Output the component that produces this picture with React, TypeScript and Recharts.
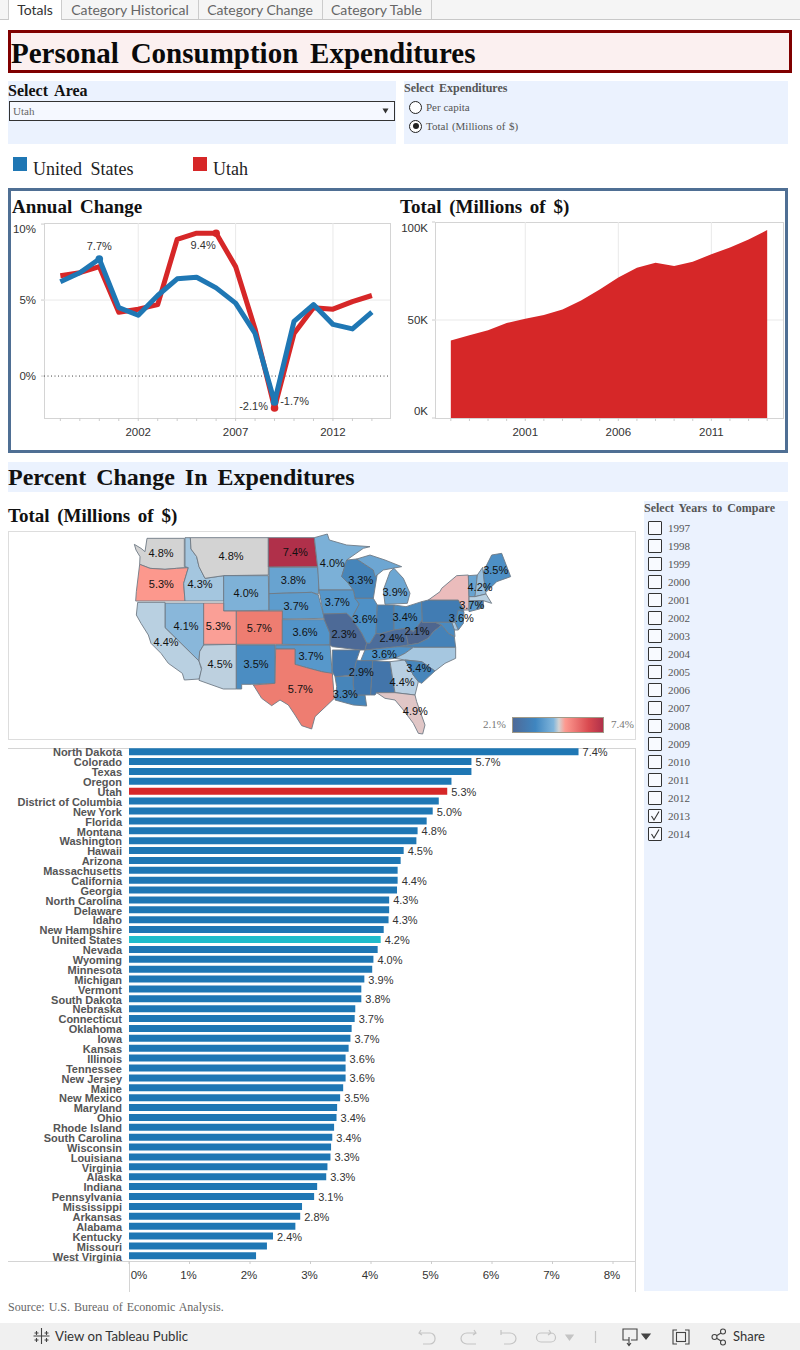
import React from 'react';
import {
  LineChart,
  Line,
  AreaChart,
  Area,
  BarChart,
  Bar,
  Cell,
  ScatterChart,
  Scatter,
  XAxis,
  YAxis,
  CartesianGrid,
  ReferenceLine,
} from 'recharts';

const changeYears = [1998, 1999, 2000, 2001, 2002, 2003, 2004, 2005, 2006, 2007, 2008, 2009, 2010, 2011, 2012, 2013, 2014];
const utahChange = [6.6, 6.8, 7.2, 4.2, 4.4, 4.7, 9.0, 9.4, 9.4, 7.2, 3.1, -2.1, 2.8, 4.5, 4.4, 4.9, 5.3];
const usChange = [6.2, 6.8, 7.7, 4.5, 4.0, 5.3, 6.4, 6.5, 5.8, 4.8, 2.8, -1.7, 3.6, 4.7, 3.4, 3.1, 4.2];
const changeYearTicks = [2002, 2007, 2012];
const changeValueTicks = [0, 5, 10];

const totalYears = [1997, 1998, 1999, 2000, 2001, 2002, 2003, 2004, 2005, 2006, 2007, 2008, 2009, 2010, 2011, 2012, 2013, 2014];
const utahTotal = [39.6, 42.2, 44.8, 48.5, 50.6, 52.5, 55.4, 60, 65.6, 71.7, 76.7, 79.2, 77.5, 79.7, 83.5, 87, 91.1, 95.9];
const totalYearTicks = [2001, 2006, 2011];
const totalValueTicks = [0, 50, 100];

const barStates = [
  'North Dakota', 'Colorado', 'Texas', 'Oregon', 'Utah', 'District of Columbia', 'New York', 'Florida', 'Montana',
  'Washington', 'Hawaii', 'Arizona', 'Massachusetts', 'California', 'Georgia', 'North Carolina', 'Delaware', 'Idaho',
  'New Hampshire', 'United States', 'Nevada', 'Wyoming', 'Minnesota', 'Michigan', 'Vermont', 'South Dakota', 'Nebraska',
  'Connecticut', 'Oklahoma', 'Iowa', 'Kansas', 'Illinois', 'Tennessee', 'New Jersey', 'Maine', 'New Mexico', 'Maryland',
  'Ohio', 'Rhode Island', 'South Carolina', 'Wisconsin', 'Louisiana', 'Virginia', 'Alaska', 'Indiana', 'Pennsylvania',
  'Mississippi', 'Arkansas', 'Alabama', 'Kentucky', 'Missouri', 'West Virginia',
];
const barChange = [
  7.43, 5.66, 5.66, 5.33, 5.26, 5.12, 5.02, 4.92, 4.77,
  4.75, 4.54, 4.49, 4.44, 4.44, 4.43, 4.3, 4.3, 4.29,
  4.21, 4.16, 4.11, 4.04, 4.02, 3.89, 3.84, 3.84, 3.74,
  3.73, 3.68, 3.66, 3.63, 3.58, 3.58, 3.58, 3.54, 3.49, 3.44,
  3.43, 3.39, 3.36, 3.34, 3.33, 3.28, 3.26, 3.11, 3.06,
  2.86, 2.83, 2.75, 2.38, 2.28, 2.1,
];
const labeledBars = [
  'North Dakota', 'Colorado', 'Utah', 'New York', 'Montana', 'Hawaii', 'California', 'North Carolina', 'Idaho',
  'United States', 'Wyoming', 'Michigan', 'South Dakota', 'Connecticut', 'Iowa', 'Illinois', 'New Jersey', 'New Mexico',
  'Ohio', 'South Carolina', 'Louisiana', 'Alaska', 'Pennsylvania', 'Arkansas', 'Kentucky',
];
const percentTicks = [0, 1, 2, 3, 4, 5, 6, 7, 8];

const compareYears = [1997, 1998, 1999, 2000, 2001, 2002, 2003, 2004, 2005, 2006, 2007, 2008, 2009, 2010, 2011, 2012, 2013, 2014];
const checkedYears = [2013, 2014];
const tabNames = ['Totals', 'Category Historical', 'Category Change', 'Category Table'];

// state outlines, in map units (1200 x 630)
const stateOutlines: Record<string, number[][][]> = {
  Washington: [[[43, 43], [63, 55], [75, 65], [81, 25], [193, 25], [193, 110], [205, 113], [170, 115], [135, 118], [90, 115], [59, 103], [60, 80], [48, 60]]],
  Oregon: [[[59, 103], [90, 115], [135, 118], [170, 115], [205, 113], [191, 160], [195, 213], [47, 213], [49, 185]]],
  Idaho: [[[195, 23], [211, 23], [213, 57], [230, 80], [237, 110], [255, 145], [311, 137], [311, 213], [195, 213], [191, 160], [205, 113], [195, 110]]],
  Montana: [[[211, 23], [445, 23], [445, 135], [311, 137], [255, 145], [237, 110], [230, 80], [213, 57]]],
  Wyoming: [[[311, 137], [445, 137], [447, 241], [311, 243]]],
  'North Dakota': [[[445, 23], [583, 23], [593, 110], [445, 111]]],
  'South Dakota': [[[447, 112], [593, 112], [597, 145], [595, 193], [575, 187], [447, 191]]],
  Nebraska: [[[447, 191], [575, 187], [595, 195], [613, 265], [487, 267], [487, 241], [447, 241]]],
  Nevada: [[[135, 219], [251, 219], [251, 345], [239, 365], [237, 393], [135, 293]]],
  California: [[[53, 217], [135, 217], [135, 293], [237, 393], [245, 420], [237, 447], [193, 450], [187, 430], [145, 400], [123, 370], [93, 340], [85, 315], [63, 280], [49, 255]]],
  Arizona: [[[251, 345], [349, 343], [349, 477], [310, 477], [237, 451], [245, 415], [237, 393], [239, 365]]],
  Utah: [[[251, 219], [311, 219], [311, 243], [349, 243], [349, 343], [251, 343]]],
  Colorado: [[[349, 243], [487, 243], [487, 343], [349, 343]]],
  'New Mexico': [[[349, 345], [465, 345], [465, 460], [395, 463], [365, 463], [365, 477], [349, 477]]],
  Kansas: [[[487, 269], [613, 269], [630, 310], [630, 345], [487, 343]]],
  Oklahoma: [[[467, 345], [630, 345], [637, 435], [605, 425], [560, 413], [525, 403], [525, 357], [467, 357]]],
  Texas: [[[467, 357], [525, 357], [525, 403], [560, 413], [605, 425], [637, 430], [643, 505], [620, 527], [585, 560], [575, 597], [545, 587], [525, 555], [505, 525], [480, 510], [455, 527], [425, 505], [400, 465], [465, 460]]],
  Minnesota: [[[583, 23], [622, 12], [628, 30], [680, 45], [750, 50], [730, 55], [680, 90], [665, 140], [685, 160], [700, 180], [597, 180], [593, 112]]],
  Wisconsin: [[[680, 90], [710, 87], [760, 120], [772, 130], [760, 205], [705, 205], [700, 180], [685, 160], [665, 140]]],
  Michigan: [[[710, 87], [750, 75], [795, 90], [845, 110], [790, 120], [765, 140], [760, 120]], [[790, 180], [810, 125], [822, 115], [850, 145], [870, 190], [862, 220], [795, 223]]],
  Iowa: [[[597, 180], [700, 180], [705, 205], [718, 222], [695, 265], [680, 250], [610, 252]]],
  Illinois: [[[705, 205], [760, 205], [772, 225], [768, 310], [750, 340], [740, 340], [725, 310], [695, 265], [718, 222]]],
  Indiana: [[[772, 225], [822, 225], [822, 300], [780, 312], [768, 310]]],
  Ohio: [[[822, 225], [858, 230], [905, 215], [907, 270], [880, 305], [860, 295], [822, 300]]],
  Missouri: [[[610, 252], [680, 250], [695, 265], [725, 310], [740, 340], [735, 360], [720, 360], [637, 350], [630, 345], [630, 310], [613, 269]]],
  Kentucky: [[[740, 340], [750, 340], [768, 310], [780, 312], [822, 300], [860, 295], [880, 305], [860, 320], [865, 345], [835, 350], [735, 360]]],
  'West Virginia': [[[860, 295], [880, 305], [907, 270], [907, 277], [945, 277], [965, 285], [940, 305], [925, 325], [895, 340], [865, 345], [860, 320]]],
  Virginia: [[[865, 345], [895, 340], [925, 325], [940, 305], [965, 285], [985, 310], [1003, 320], [1007, 352], [880, 352], [835, 350]]],
  Pennsylvania: [[[905, 215], [925, 210], [1015, 210], [1032, 240], [1015, 270], [995, 277], [907, 277]]],
  'New York': [[[925, 210], [960, 185], [965, 175], [1010, 137], [1045, 135], [1047, 200], [1047, 240], [1032, 240], [1015, 210]]],
  Vermont: [[[1045, 137], [1072, 135], [1065, 200], [1047, 200]]],
  'New Hampshire': [[[1072, 135], [1088, 112], [1098, 192], [1065, 200]]],
  Maine: [[[1090, 125], [1115, 75], [1145, 70], [1172, 140], [1130, 155], [1100, 185], [1095, 180]]],
  Massachusetts: [[[1047, 200], [1065, 200], [1098, 192], [1115, 220], [1090, 212], [1047, 213]]],
  Connecticut: [[[1047, 213], [1075, 212], [1078, 237], [1047, 245]]],
  'Rhode Island': [[[1075, 212], [1090, 212], [1090, 232], [1078, 237]]],
  'New Jersey': [[[1015, 240], [1032, 245], [1030, 280], [1015, 300], [1005, 277]]],
  Delaware: [[[995, 277], [1005, 277], [1015, 300], [1003, 300]]],
  Maryland: [[[945, 277], [995, 277], [1003, 300], [1005, 320], [985, 310], [965, 285]]],
  Tennessee: [[[735, 360], [835, 350], [880, 352], [855, 370], [825, 385], [758, 392], [722, 392]]],
  Arkansas: [[[637, 360], [720, 360], [710, 390], [700, 435], [645, 440], [637, 425]]],
  Louisiana: [[[645, 440], [700, 438], [700, 465], [705, 495], [735, 495], [740, 528], [700, 525], [645, 510], [650, 470]]],
  Mississippi: [[[722, 392], [758, 392], [752, 495], [705, 495], [700, 465], [700, 435], [710, 390]]],
  Alabama: [[[758, 392], [810, 395], [825, 488], [770, 488], [765, 495], [752, 495]]],
  Georgia: [[[810, 395], [855, 390], [880, 435], [895, 455], [885, 495], [825, 488]]],
  'North Carolina': [[[880, 352], [1007, 352], [1007, 385], [975, 400], [945, 423], [905, 395], [855, 390], [825, 385], [855, 370]]],
  'South Carolina': [[[855, 390], [905, 395], [945, 423], [905, 460], [895, 455], [880, 435]]],
  Florida: [[[770, 488], [825, 488], [885, 495], [890, 515], [915, 585], [908, 612], [895, 610], [880, 580], [850, 540], [825, 510], [795, 505]]],
};

const stateLabelSpots: [string, number, number][] = [
  ['Washington', 123, 68], ['Montana', 333, 78], ['North Dakota', 526, 66], ['Minnesota', 637, 100], ['Idaho', 240, 163],
  ['South Dakota', 520, 151], ['Wisconsin', 722, 151], ['Michigan', 825, 186], ['Maine', 1127, 121], ['New Hampshire', 1080, 171],
  ['Oregon', 124, 163], ['Wyoming', 378, 189], ['Nebraska', 528, 228], ['Iowa', 652, 216], ['Connecticut', 1055, 226],
  ['Nevada', 198, 289], ['Utah', 295, 289], ['Colorado', 418, 295], ['Kansas', 555, 306], ['Missouri', 672, 312],
  ['Illinois', 735, 268], ['Ohio', 855, 262], ['New Jersey', 1024, 264], ['West Virginia', 891, 303], ['Kentucky', 816, 325],
  ['California', 138, 337], ['Arizona', 300, 402], ['New Mexico', 408, 402], ['Oklahoma', 573, 378], ['Tennessee', 793, 372],
  ['South Carolina', 896, 415], ['Mississippi', 724, 427], ['Georgia', 846, 457], ['Texas', 541, 478], ['Louisiana', 676, 493],
  ['Florida', 886, 544],
];

const colorStops: [number, string][] = [
  [2.1, '#4e668f'], [2.4, '#4c6d9c'], [2.9, '#3f78b0'], [3.3, '#4583b8'], [3.6, '#4f92c8'], [4.0, '#78aed6'],
  [4.4, '#b5cfe3'], [4.72, '#d3d3d3'], [4.8, '#d3d3d3'], [5.02, '#ebbcbc'], [5.3, '#fd9a90'], [5.7, '#ec7a6e'], [7.43, '#b0304a'],
];

const BLUE = '#1f77b4';
const RED = '#d62728';
const TEAL = '#1fbccb';
const PANEL = '#ebf2fe';
const SANS = '"Liberation Sans", Arial, sans-serif';
const SERIF = '"Liberation Serif", "Times New Roman", serif';
const UI = 'Lato, sans-serif';

const MAP_WIDTH = 400;
const MAP_HEIGHT = 210;
const MAP_UNITS_X = 1200;
const MAP_UNITS_Y = 630;

function mixColor(a: string, b: string, t: number) {
  const channel = (c: string, i: number) => parseInt(c.slice(1 + i * 2, 3 + i * 2), 16);
  const parts = [0, 1, 2].map((i) => Math.round(channel(a, i) + (channel(b, i) - channel(a, i)) * t));
  return `rgb(${parts.join(',')})`;
}

function changeColor(v: number) {
  for (let i = 1; i < colorStops.length; i++) {
    if (v <= colorStops[i][0]) {
      const [v0, c0] = colorStops[i - 1];
      const [v1, c1] = colorStops[i];
      return mixColor(c0, c1, Math.max(0, (v - v0) / (v1 - v0)));
    }
  }
  return colorStops[colorStops.length - 1][1];
}

const changeRows = changeYears.map((year, i) => ({ year, utah: utahChange[i], us: usChange[i] }));
const totalRows = totalYears.map((year, i) => ({ year, total: utahTotal[i] }));
const barRows = barStates.map((name, i) => ({ name, change: barChange[i] }));
const valueOf = (name: string) => barChange[barStates.indexOf(name)];
const stateRows = Object.keys(stateOutlines).map((name) => ({
  name,
  x: stateOutlines[name][0][0][0],
  y: stateOutlines[name][0][0][1],
  parts: stateOutlines[name],
}));
const labelRows = stateLabelSpots.map(([name, x, y]) => ({ name, x, y }));

function Txt({ x, y, size, font = SERIF, bold, color = '#111', spacing, children }: any) {
  return (
    <div
      style={{
        position: 'absolute',
        left: x,
        top: y - 15,
        lineHeight: '30px',
        fontSize: size,
        fontFamily: font,
        fontWeight: bold ? 700 : 400,
        color,
        wordSpacing: spacing,
        whiteSpace: 'nowrap',
      }}
    >
      {children}
    </div>
  );
}

function Box({ x, y, w, h, style }: any) {
  return <div style={{ position: 'absolute', left: x, top: y, width: w, height: h, boxSizing: 'border-box', ...style }} />;
}

function AxisText({ x, y, text, anchor = 'middle' }: any) {
  return (
    <text x={x} y={y} textAnchor={anchor} dominantBaseline="central" fontSize={11.5} fontFamily={SANS} fill="#333">
      {text}
    </text>
  );
}

function yearTick(major: number[]) {
  return ({ x, y, payload }: any) =>
    major.includes(payload.value) ? <AxisText x={x} y={y + 9} text={String(payload.value)} /> : <g />;
}

function ChangeYTick({ x, y, payload }: any) {
  return <AxisText x={x - 3} y={payload.value === 10 ? y + 5 : y} text={`${payload.value}%`} anchor="end" />;
}

function TotalYTick({ x, y, payload }: any) {
  const shift = payload.value === 100 ? 6 : payload.value === 0 ? -7 : 0;
  return <AxisText x={x - 2} y={y + shift} text={`${payload.value}K`} anchor="end" />;
}

function PercentTick({ x, y, payload }: any) {
  return <AxisText x={payload.value === 0 ? x + 10 : x - 1} y={y + 9} text={`${payload.value}%`} />;
}

function StateTick({ x, y, payload }: any) {
  return (
    <text x={x + 1} y={y + 0.5} textAnchor="end" dominantBaseline="central" fontSize={11} fontWeight={700} fontFamily={SANS} fill="#555">
      {payload.value}
    </text>
  );
}

// labelled points of the annual change lines
const utahMarks: Record<number, [number, number]> = { 2006: [-13, 12], 2009: [-21, -2] };
const usMarks: Record<number, [number, number]> = { 2000: [0, -13], 2009: [20, -1] };

function markDot(color: string, marks: Record<number, [number, number]>) {
  return ({ cx, cy, index }: any) =>
    marks[changeYears[index]] ? <circle key={index} cx={cx} cy={cy} r={3.8} fill={color} /> : <g key={index} />;
}

function markLabel(values: number[], marks: Record<number, [number, number]>) {
  return ({ x, y, index }: any) => {
    const mark = marks[changeYears[index]];
    if (!mark) return <g key={index} />;
    return (
      <text key={index} x={x + mark[0]} y={y + mark[1]} textAnchor="middle" dominantBaseline="central" fontSize={11} fontFamily={SANS} fill="#333">
        {values[index].toFixed(1)}%
      </text>
    );
  };
}

function BarValue({ x, y, width, height, index }: any) {
  const row = barRows[index];
  if (!labeledBars.includes(row.name)) return <g />;
  return (
    <text x={x + width + 4} y={y + height / 2 + 0.5} dominantBaseline="central" fontSize={11} fontFamily={SANS} fill="#333">
      {row.change.toFixed(1)}%
    </text>
  );
}

function StateShape({ cx, cy, payload }: any) {
  const kx = MAP_WIDTH / MAP_UNITS_X;
  const ky = MAP_HEIGHT / MAP_UNITS_Y;
  const d = payload.parts
    .map((part: number[][]) =>
      'M' + part.map(([ux, uy]) => `${cx + (ux - payload.x) * kx},${cy + (uy - payload.y) * ky}`).join('L') + 'Z',
    )
    .join('');
  return <path d={d} fill={changeColor(valueOf(payload.name))} stroke="#6f7a86" strokeWidth={0.9} strokeLinejoin="round" />;
}

function StateLabel({ cx, cy, payload }: any) {
  return (
    <text x={cx} y={cy} textAnchor="middle" dominantBaseline="central" fontSize={11} fontFamily={SANS} fill="#111">
      {valueOf(payload.name).toFixed(1)}%
    </text>
  );
}

function Tabs() {
  const edges = [8, 62, 198, 322, 431];
  return (
    <>
      <Box x={0} y={0} w={800} h={20} style={{ background: '#f5f5f5', borderBottom: '1px solid #c8c8c8' }} />
      <Box x={8} y={0} w={54} h={20} style={{ background: '#fff', borderLeft: '1px solid #ccc', borderRight: '1px solid #ccc' }} />
      {tabNames.map((name, i) => (
        <React.Fragment key={name}>
          {i > 0 && <Box x={edges[i + 1]} y={0} w={1} h={19} style={{ background: '#ccc' }} />}
          <div
            style={{
              position: 'absolute',
              left: edges[i],
              width: edges[i + 1] - edges[i],
              top: 0,
              lineHeight: '19px',
              textAlign: 'center',
              fontFamily: UI,
              fontSize: 14,
              color: i === 0 ? '#333' : '#666',
            }}
          >
            {name}
          </div>
        </React.Fragment>
      ))}
    </>
  );
}

function Radio({ y, on }: any) {
  return (
    <>
      <Box x={409} y={y - 6.5} w={13} h={13} style={{ border: '1px solid #222', borderRadius: '50%', background: '#fff' }} />
      {on && <Box x={412.5} y={y - 3} w={6} h={6} style={{ background: '#222', borderRadius: '50%' }} />}
    </>
  );
}

function YearList() {
  return (
    <>
      {compareYears.map((year, i) => (
        <React.Fragment key={year}>
          <Box x={648} y={521 + i * 18} w={14} h={14} style={{ border: '1px solid #333', background: '#f8faff', borderRadius: 1 }} />
          {checkedYears.includes(year) && (
            <svg style={{ position: 'absolute', left: 648, top: 521 + i * 18 }} width={14} height={14}>
              <path d="M3.5 7 L6 11 L11 2.5" fill="none" stroke="#333" strokeWidth={1.1} />
            </svg>
          )}
          <Txt x={668} y={528 + i * 18} size={11} color="#555">{year}</Txt>
        </React.Fragment>
      ))}
    </>
  );
}

function Footer() {
  return (
    <>
      <Box x={0} y={1323} w={800} h={27} style={{ background: '#f0f0f0' }} />
      <svg style={{ position: 'absolute', left: 0, top: 1323 }} width={800} height={27} fill="none">
        <g stroke="#444" strokeWidth={1.1}>
          <path d="M41.5 5v16M33.5 13h16M36.5 8v4M34.5 10h4M46.5 8v4M44.5 10h4M36.5 15v4M34.5 17h4M46.5 15v4M44.5 17h4" />
        </g>
        <g stroke="#c4c4c4" strokeWidth={1.2}>
          <path d="M421 7l-2 3 3 2M419 10h11a5 5 0 0 1 5 5v1a5 5 0 0 1-5 5h-7" />
          <path d="M474 7l2 3-3 2M476 10h-9a6 5.5 0 0 0 0 11h9" />
          <path d="M501 7v5M501 10h9a6 5.5 0 0 1 0 11h-6" />
          <path d="M549 7l2 3-3 2M551 10h-10a4 4 0 0 0 0 9h10a4 4 0 0 0 0-9" />
          <path d="M566 12h7l-3.5 5z" fill="#c4c4c4" />
          <path d="M595.5 8v12" />
        </g>
        <g stroke="#444" strokeWidth={1.1}>
          <path d="M629 17h-6v-11h14v11h-6M629 14v8M627 20l2 2.5 2-2.5" />
          <path d="M642 11h8l-4 5z" fill="#444" />
          <path d="M677 7h-4v14h4M685 7h4v14h-4" />
          <rect x={676.5} y={9.5} width={9} height={9} />
          <circle cx={714.5} cy={14} r={2.5} />
          <circle cx={723} cy={8.5} r={2.5} />
          <circle cx={723} cy={19.5} r={2.5} />
          <path d="M717 12.5l4-2.500M717 15.5l4 2.500" />
        </g>
      </svg>
      <Txt x={55} y={1336} size={13.2} font={UI} color="#333">View on Tableau Public</Txt>
      <Txt x={733} y={1336} size={13} font={UI} color="#333">Share</Txt>
    </>
  );
}

export default function App() {
  return (
    <div style={{ position: 'absolute', left: 0, top: 0, width: 800, height: 1350, overflow: 'hidden', background: '#fff' }}>
      <Tabs />

      <Box x={8} y={30} w={784} h={43} style={{ background: '#fbf0f0', border: '3px solid #800000' }} />
      <Txt x={11} y={53} size={29} bold color="#0a0a0a" spacing={4.5}>Personal Consumption Expenditures</Txt>

      <Box x={8} y={81} w={388} h={63} style={{ background: PANEL }} />
      <Txt x={8} y={91} size={16} bold spacing={3}>Select Area</Txt>
      <Box x={9} y={101} w={386} h={20} style={{ background: '#f5f8ff', border: '1px solid #333' }} />
      <Txt x={13} y={111} size={11} color="#666">Utah</Txt>
      <svg style={{ position: 'absolute', left: 382, top: 108 }} width={8} height={6}><path d="M0.5 0.5h6l-3 5z" fill="#333" /></svg>

      <Box x={404} y={81} w={384} h={63} style={{ background: PANEL }} />
      <Txt x={404} y={88} size={12} bold color="#555" spacing={2}>Select Expenditures</Txt>
      <Radio y={107} />
      <Txt x={426} y={107} size={11} color="#555">Per capita</Txt>
      <Radio y={126} on />
      <Txt x={426} y={126} size={11} color="#555" spacing={0.7}>Total (Millions of $)</Txt>

      <Box x={13} y={157} w={14} h={14} style={{ background: BLUE }} />
      <Txt x={33} y={169} size={18} color="#222" spacing={4}>United States</Txt>
      <Box x={193} y={157} w={14} h={14} style={{ background: RED }} />
      <Txt x={213} y={169} size={18} color="#222">Utah</Txt>

      <Box x={8} y={188} w={780} h={265} style={{ border: '3px solid #4f6f94' }} />
      <Txt x={12} y={207} size={19} bold spacing={3}>Annual Change</Txt>
      <Txt x={400} y={207} size={19} bold spacing={3}>Total (Millions of $)</Txt>

      <Box x={44} y={222.5} w={346.5} h={196} style={{ border: '1px solid #d4d4d4' }} />
      <div style={{ position: 'absolute', left: 11, top: 215 }}>
        <LineChart width={381} height={235} data={changeRows} margin={{ top: 8, right: 2, bottom: 0, left: 0 }}>
          <CartesianGrid stroke="#e9e9e9" horizontalValues={[5]} verticalValues={changeYearTicks} />
          <XAxis
            dataKey="year"
            type="number"
            domain={[1997.16, 2014.93]}
            ticks={changeYears}
            interval={0}
            height={32}
            tickSize={3}
            axisLine={false}
            tickLine={{ stroke: '#ccc' }}
            tick={yearTick(changeYearTicks)}
          />
          <YAxis
            type="number"
            domain={[-2.76, 10.07]}
            ticks={changeValueTicks}
            interval={0}
            width={33}
            tickSize={3}
            axisLine={false}
            tickLine={{ stroke: '#ccc' }}
            tick={ChangeYTick}
          />
          <ReferenceLine y={0} stroke="#444" strokeDasharray="1 2.5" />
          <Line
            dataKey="utah"
            stroke={RED}
            strokeWidth={5}
            strokeLinejoin="round"
            dot={markDot(RED, utahMarks)}
            label={markLabel(utahChange, utahMarks)}
            isAnimationActive={false}
          />
          <Line
            dataKey="us"
            stroke={BLUE}
            strokeWidth={5}
            strokeLinejoin="round"
            dot={markDot(BLUE, usMarks)}
            label={markLabel(usChange, usMarks)}
            isAnimationActive={false}
          />
        </LineChart>
      </div>

      <Box x={435} y={222} w={348.5} h={196.5} style={{ border: '1px solid #d4d4d4' }} />
      <div style={{ position: 'absolute', left: 395, top: 215 }}>
        <AreaChart width={389} height={235} data={totalRows} margin={{ top: 7, right: 1, bottom: 0, left: 0 }}>
          <CartesianGrid stroke="#e9e9e9" horizontalValues={[50]} verticalValues={totalYearTicks} />
          <XAxis
            dataKey="year"
            type="number"
            domain={[1996.15, 2014.85]}
            ticks={totalYears}
            interval={0}
            height={32}
            tickSize={3}
            axisLine={false}
            tickLine={{ stroke: '#ccc' }}
            tick={yearTick(totalYearTicks)}
          />
          <YAxis
            type="number"
            domain={[0, 100]}
            ticks={totalValueTicks}
            interval={0}
            width={40}
            tickSize={3}
            axisLine={false}
            tickLine={{ stroke: '#ccc' }}
            tick={TotalYTick}
          />
          <Area dataKey="total" type="linear" fill={RED} fillOpacity={1} stroke="none" isAnimationActive={false} />
        </AreaChart>
      </div>

      <Box x={8} y={462} w={780} h={30} style={{ background: PANEL }} />
      <Txt x={8} y={477} size={24} bold spacing={4}>Percent Change In Expenditures</Txt>
      <Txt x={8} y={516} size={19} bold spacing={3}>Total (Millions of $)</Txt>

      <Box x={8} y={531} w={628} h={209} style={{ border: '1px solid #ddd' }} />
      <div style={{ position: 'absolute', left: 120, top: 530 }}>
        <ScatterChart width={MAP_WIDTH} height={MAP_HEIGHT} margin={{ top: 0, right: 0, bottom: 0, left: 0 }}>
          <XAxis dataKey="x" type="number" domain={[0, MAP_UNITS_X]} hide />
          <YAxis dataKey="y" type="number" domain={[0, MAP_UNITS_Y]} reversed hide />
          <Scatter data={stateRows} shape={StateShape} isAnimationActive={false} />
          <Scatter data={labelRows} shape={StateLabel} isAnimationActive={false} />
        </ScatterChart>
      </div>
      <Txt x={483} y={724} size={11} color="#777">2.1%</Txt>
      <Box
        x={512}
        y={717}
        w={92}
        h={16}
        style={{
          border: '1px solid #a09a88',
          background: 'linear-gradient(90deg, #4e6a98 0%, #3f86c0 25%, #80b5db 45%, #d3d3d3 51%, #fd9a90 58%, #d94a50 84%, #b0304a 100%)',
        }}
      />
      <Txt x={611} y={724} size={11} color="#777">7.4%</Txt>

      <Box x={8} y={748} w={628} h={1} style={{ background: '#d4d4d4' }} />
      <Box x={8} y={1261} w={628} h={1} style={{ background: '#d4d4d4' }} />
      <Box x={128.5} y={1261} w={1} h={31} style={{ background: '#d4d4d4' }} />
      <Box x={635} y={748} w={1} h={544} style={{ background: '#d4d4d4' }} />
      <div style={{ position: 'absolute', left: 8, top: 747 }}>
        <BarChart
          width={628}
          height={545}
          data={barRows}
          layout="vertical"
          barCategoryGap={1.2}
          margin={{ top: 0, right: 0, bottom: 0, left: 0 }}
        >
          <XAxis
            type="number"
            domain={[0, 8.38]}
            ticks={percentTicks}
            interval={0}
            height={31}
            tickSize={3}
            axisLine={false}
            tickLine={{ stroke: '#ccc' }}
            tick={PercentTick}
          />
          <YAxis type="category" dataKey="name" width={121} interval={0} axisLine={false} tickLine={false} tick={StateTick} />
          <Bar dataKey="change" label={BarValue} isAnimationActive={false}>
            {barRows.map((row) => (
              <Cell key={row.name} fill={row.name === 'Utah' ? RED : row.name === 'United States' ? TEAL : BLUE} />
            ))}
          </Bar>
        </BarChart>
      </div>

      <Box x={644} y={501} w={144} h={790} style={{ background: PANEL }} />
      <Txt x={644} y={508} size={12} bold color="#555" spacing={2}>Select Years to Compare</Txt>
      <YearList />

      <Txt x={8} y={1307} size={12} color="#666" spacing={1}>Source: U.S. Bureau of Economic Analysis.</Txt>
      <Footer />
    </div>
  );
}
